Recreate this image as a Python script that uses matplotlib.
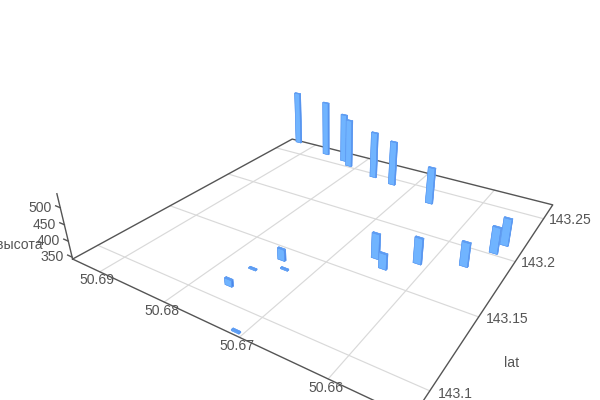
import numpy as np
import matplotlib
matplotlib.use("Agg")
import matplotlib.pyplot as plt

plt.rcParams['font.family'] = ['Liberation Sans', 'DejaVu Sans']

# values
lon = [50.6930, 50.6866, 50.6829, 50.6813, 50.6763, 50.6729, 50.6661, 50.6657, 50.6640,
       50.6612, 50.6566, 50.6547, 50.6542, 50.6745, 50.6761, 50.6731, 50.6763, 50.6708]
lat = [143.267, 143.260, 143.257, 143.252, 143.246, 143.243, 143.233, 143.166, 143.160,
       143.173, 143.183, 143.202, 143.212, 143.140, 143.126, 143.134, 143.110, 143.087]
height = [538, 540, 517, 513, 504, 495, 465, 421, 391,
          423, 417, 425, 429, 379, 347, 347, 364, 347]

lon_ticks = [50.69, 50.68, 50.67, 50.66]
lat_ticks = [143.1, 143.15, 143.2, 143.25]
lat_labels = ["143.1", "143.15", "143.2", "143.25"]
height_ticks = [350, 400, 450, 500]

x_min, x_max = 50.652, 50.6947
y_min, y_max = 143.085, 143.269
z_min, z_max = 344, 540

text_col = "#555555"
axis_col = "#555555"
grid_col = "#d9d9d9"

fig = plt.figure(figsize=(6, 4), dpi=100)
ax = fig.add_axes([23 / 600, -108 / 400, 1, 1.5], projection="3d")
ax.set_proj_type("persp", focal_length=0.186)
ax.view_init(elev=28, azim=-57.4)
ax.set_box_aspect((1.094, 1.094, 0.215), zoom=0.82)
ax.set_xlim(x_max, x_min)
ax.set_ylim(y_min, y_max)
ax.set_zlim(z_min, z_max)
ax.set_xticks([])
ax.set_yticks([])
ax.set_zticks([])
ax.set_axis_off()
ax.computed_zorder = False

# floor grid
for v in lon_ticks:
    ax.plot([v, v], [y_min, y_max], [z_min, z_min], color=grid_col, lw=0.85, zorder=1)
for v in lat_ticks:
    ax.plot([x_min, x_max], [v, v], [z_min, z_min], color=grid_col, lw=0.85, zorder=1)

# box edges + z axis
ax.plot([x_max, x_min, x_min, x_max, x_max], [y_min, y_min, y_max, y_max, y_min],
        [z_min] * 5, color=axis_col, lw=1, zorder=2)
ax.plot([x_max, x_max], [y_min, y_min], [z_min, z_max], color=axis_col, lw=1, zorder=2)

# bars
dx = 0.00095
dy = 0.0012
light = "#70b4ff"
dark = "#4a86ea"
top = "#5c9cf5"
colors = [light, top, light, light, dark, dark] * len(lon)
ax.bar3d(np.array(lon) - dx / 2, np.array(lat) - dy / 2, z_min, dx, dy,
         np.array(height) - z_min, color=colors, shade=False, zorder=3,
         edgecolor="#5f9cf2", linewidth=0.4)

# tick labels
for v in lon_ticks:
    ax.text(v, y_min - 0.0015, z_min, f"{v:g}", color=text_col, fontsize=10.08, ha="center", va="top")
for v, s in zip(lat_ticks, lat_labels):
    ax.text(x_min - 0.0007, v, z_min, s, color=text_col, fontsize=10.08, ha="left", va="center")
for v in height_ticks:
    ax.plot([x_max, x_max + 0.0008], [y_min, y_min], [v, v], color=axis_col, lw=1, zorder=2)
    ax.text(x_max + 0.0016, y_min, v - 12, str(v), color=text_col, fontsize=10.08, ha="right", va="center")

# axis names
ax.text(x_max + 0.0056, y_min, z_min, "высота", color=text_col, fontsize=10.08, ha="right", va="center")
ax.text(x_min - 0.0048, 143.13, z_min, "lat", color=text_col, fontsize=10.08, ha="center", va="center")

fig.savefig("out.png", dpi=100)
